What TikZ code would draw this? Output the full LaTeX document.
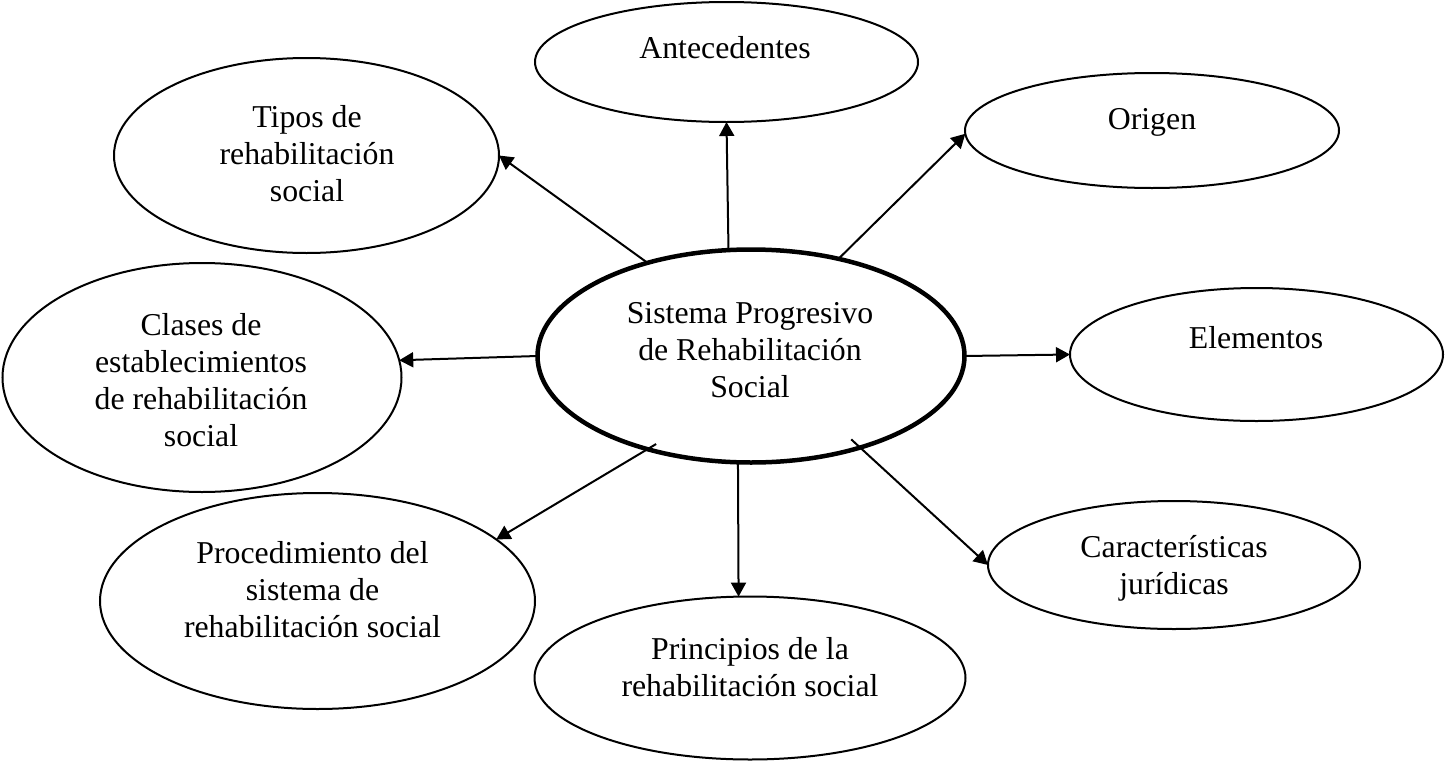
\documentclass[tikz,border=0pt]{standalone}
\usepackage{fontspec}
\setmainfont{Liberation Serif}
\usetikzlibrary{arrows.meta,shapes.geometric}
\begin{document}
\begin{tikzpicture}[x=1pt,y=-1pt,
  oval/.style 2 args={draw, ellipse, line width=2pt, inner sep=0pt, outer sep=0pt,
    minimum width=#1, minimum height=#2},
  lbl/.style={align=center, inner sep=0pt, outer sep=0pt,
    font=\fontsize{31.8}{37}\selectfont},
  conn/.style={line width=2pt, -{Triangle[length=14pt,width=15pt]}}]
\useasboundingbox (0,0) rectangle (1446,763);
% ellipses
\node[oval={427}{213}, line width=4.5pt] (c) at (751,356) {};
\node[oval={383}{120}] (ante) at (726.5,62) {};
\node[oval={374}{115}] (orig) at (1152,130.5) {};
\node[oval={385}{195}] (tipos) at (306.5,155.5) {};
\node[oval={399}{229}] (clases) at (202,377.5) {};
\node[oval={373}{133}] (elem) at (1256.5,354.5) {};
\node[oval={435}{216}] (proc) at (317.5,601) {};
\node[oval={431}{163}] (princ) at (750,678) {};
\node[oval={372}{128}] (carac) at (1174,565) {};
% texts
\node[lbl] (tc) at (750,352.6) {\strut Sistema Progresivo\\de Rehabilitación\\Social\strut};
\node[lbl] (tante) at (725,50.6) {\strut Antecedentes};
\node[lbl] (torig) at (1152,121.6) {\strut Origen};
\node[lbl] (ttipos) at (307,157.1) {\strut Tipos de\\rehabilitación\\social\strut};
\node[lbl] (tclases) at (201,383.6) {\strut Clases de\\establecimientos\\de rehabilitación\\social\strut};
\node[lbl] (telem) at (1256,340.6) {\strut Elementos};
\node[lbl] (tproc) at (312.5,593.1) {\strut Procedimiento del\\sistema de\\rehabilitación social\strut};
\node[lbl] (tprinc) at (750,671) {\strut Principios de la\\rehabilitación social\strut};
\node[lbl] (tcarac) at (1174,568.6) {\strut Características\\jurídicas\strut};
% connectors
\draw[conn] (c.102.8) -- (ante.south);
\draw[conn] (c.48) -- (orig.181);
\draw[conn] (c.138.4) -- (tipos.east);
\draw[conn] (c.180) -- (clases.5.9);
\draw[conn] (c.0) -- (elem.west);
\draw[conn, shorten <=-10pt] (c.222.2) -- (proc.19);
\draw[conn] (c.263.2) -- (princ.98.4);
\draw[conn, shorten <=-12pt] (c.320.7) -- (carac.west);
\end{tikzpicture}
\end{document}
